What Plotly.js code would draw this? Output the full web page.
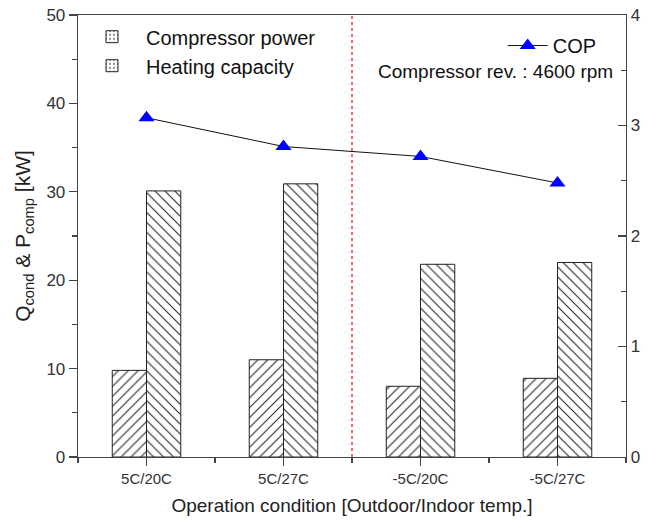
<!DOCTYPE html>
<html>
<head>
<meta charset="utf-8">
<script src="https://cdn.plot.ly/plotly-3.0.1.min.js"></script>
<style>html,body{margin:0;padding:0;background:#fff}</style>
</head>
<body>
<div id="chart" style="width:657px;height:528px"></div>
<script>
const categories = ["5C/20C", "5C/27C", "-5C/20C", "-5C/27C"];
const compressorPower = [9.8, 11.0, 8.0, 8.9];
const heatingCapacity = [30.1, 30.9, 21.8, 22.0];
const cop = [3.07, 2.81, 2.72, 2.48];
const leftTicks = [0, 10, 20, 30, 40, 50];
const rightTicks = [0, 1, 2, 3, 4];

const xIdx = categories.map((c, i) => i);
const font = "Liberation Sans, Arial, sans-serif";

const traces = [
  {
    type: "bar", x: xIdx, y: compressorPower, name: "Compressor power", showlegend: false,
    width: 0.25, offset: -0.25,
    marker: {color: "white", line: {color: "#222", width: 1},
      pattern: {shape: "/", fgcolor: "#222", bgcolor: "white", size: 7, solidity: 0.15}}
  },
  {
    type: "bar", x: xIdx, y: heatingCapacity, name: "Heating capacity", showlegend: false,
    width: 0.25, offset: 0,
    marker: {color: "white", line: {color: "#222", width: 1},
      pattern: {shape: "\\", fgcolor: "#222", bgcolor: "white", size: 7, solidity: 0.15}}
  },
  {
    type: "bar", x: [null], y: [null], name: "Compressor power", legend: "legend",
    marker: {color: "white", line: {color: "#222", width: 1},
      pattern: {shape: ".", fgcolor: "#222", bgcolor: "white", size: 5, solidity: 0.15}}
  },
  {
    type: "bar", x: [null], y: [null], name: "Heating capacity", legend: "legend",
    marker: {color: "white", line: {color: "#222", width: 1},
      pattern: {shape: ".", fgcolor: "#222", bgcolor: "white", size: 5, solidity: 0.15}}
  },
  {
    type: "scatter", mode: "lines+markers", x: xIdx, y: cop, name: "COP", yaxis: "y2", legend: "legend2",
    line: {color: "#111", width: 1},
    marker: {symbol: "triangle-up", size: 14, color: "#0000ff", line: {width: 0}}
  }
];

const axisCommon = {
  showline: true, linecolor: "#444", linewidth: 1.3, zeroline: false, showgrid: false,
  tickfont: {family: font, size: 17, color: "#333"}, tickcolor: "#444", tickwidth: 1.3
};

const layout = {
  width: 657, height: 528,
  margin: {l: 78, r: 31, t: 15, b: 71},
  paper_bgcolor: "white", plot_bgcolor: "white",
  barmode: "overlay",
  font: {family: font, color: "#222"},
  xaxis: Object.assign({}, axisCommon, {
    range: [-0.5, 3.5], tickmode: "array", tickvals: xIdx, ticktext: categories,
    ticks: "outside", ticklen: 8, mirror: true,
    tickfont: {family: font, size: 15, color: "#333"},
    minor: {dtick: 0.5, tick0: -0.5, ticks: "outside", ticklen: 5, tickcolor: "#444", tickwidth: 1.3},
    title: {text: "Operation condition [Outdoor/Indoor temp.]", font: {family: font, size: 19, color: "#222"}, standoff: 12}
  }),
  yaxis: Object.assign({}, axisCommon, {
    range: [0, 50], tickmode: "array", tickvals: leftTicks, ticks: "outside", ticklen: 8,
    minor: {dtick: 5, ticks: "outside", ticklen: 5, tickcolor: "#444", tickwidth: 1.3},
    title: {text: "Q<sub>cond</sub> & P<sub>comp</sub> [kW]", font: {family: font, size: 21, color: "#222"}, standoff: 10}
  }),
  yaxis2: Object.assign({}, axisCommon, {
    overlaying: "y", side: "right", range: [0, 4], tickmode: "array", tickvals: rightTicks,
    ticks: "inside", ticklen: 8,
    minor: {dtick: 0.5, ticks: "inside", ticklen: 5, tickcolor: "#444", tickwidth: 1.3}
  }),
  legend: {
    x: 0.0, y: 0.995, xanchor: "left", yanchor: "top", bgcolor: "rgba(0,0,0,0)",
    font: {family: font, size: 20, color: "#111"}, itemwidth: 58, tracegroupgap: 0
  },
  legend2: {
    x: 0.775, y: 0.975, xanchor: "left", yanchor: "top", bgcolor: "rgba(0,0,0,0)",
    font: {family: font, size: 20, color: "#111"}, itemwidth: 40
  },
  shapes: [{
    type: "line", xref: "x", yref: "paper", x0: 1.5, x1: 1.5, y0: 0, y1: 1,
    line: {color: "red", width: 1.2, dash: "dot"}
  }],
  annotations: [{
    xref: "paper", yref: "paper", x: 0.98, y: 0.873, xanchor: "right", yanchor: "middle",
    text: "Compressor rev. : 4600 rpm", showarrow: false,
    font: {family: font, size: 19, color: "#111"}
  }]
};

Plotly.newPlot("chart", traces, layout, {displayModeBar: false, staticPlot: true});
</script>
</body>
</html>
